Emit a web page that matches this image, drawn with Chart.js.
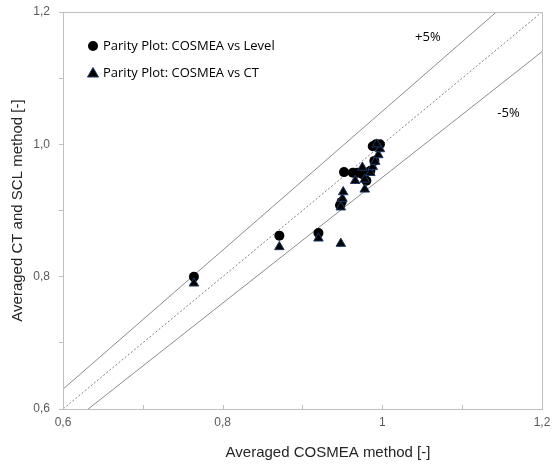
<!DOCTYPE html>
<html>
<head>
<meta charset="utf-8">
<script src="https://cdn.jsdelivr.net/npm/chart.js@4/dist/chart.umd.min.js"></script>
<style>
  html, body { margin: 0; padding: 0; background: #ffffff; }
  #wrap { width: 556px; height: 468px; }
</style>
</head>
<body>
<div id="wrap"><canvas id="chart" width="556" height="468"></canvas></div>
<script>
// COSMEA vs Level (circles)
const levelX = [0.764, 0.871, 0.920, 0.947, 0.949, 0.952, 0.963, 0.969, 0.975, 0.980, 0.985, 0.990, 0.988, 0.992, 0.997];
const levelY = [0.800, 0.862, 0.866, 0.908, 0.913, 0.958, 0.957, 0.957, 0.955, 0.945, 0.960, 0.975, 0.997, 1.000, 1.000];

// COSMEA vs CT (triangles)
const ctX = [0.764, 0.871, 0.920, 0.948, 0.948, 0.950, 0.951, 0.966, 0.975, 0.978, 0.978, 0.985, 0.988, 0.991, 0.995, 0.997, 0.993];
const ctY = [0.790, 0.845, 0.858, 0.850, 0.905, 0.918, 0.928, 0.945, 0.965, 0.947, 0.932, 0.957, 0.966, 0.974, 0.984, 0.993, 1.000];

// Parity line and +/-5 % bands (y = k * x)
const bandFactors = [1.0, 1.05, 0.95];
const bandLabels = ['', '+5%', '-5%'];

// Axis ticks
const xTickValues = [0.6, 0.8, 1.0, 1.2];
const xTickLabels = ['0,6', '0,8', '1', '1,2'];
const yTickValues = [0.6, 0.8, 1.0, 1.2];
const yTickLabels = ['0,6', '0,8', '1,0', '1,2'];

const seriesNames = ['Parity Plot: COSMEA vs Level', 'Parity Plot: COSMEA vs CT'];
const xTitle = 'Averaged COSMEA method [-]';
const yTitle = 'Averaged CT and SCL method [-]';

const toPoints = (xs, ys) => xs.map((x, i) => ({ x: x, y: ys[i] }));
const lineFor = k => [{ x: 0.5, y: 0.5 * k }, { x: 1.3, y: 1.3 * k }];
const labelFor = (vals, labels) => v => {
  const i = vals.findIndex(t => Math.abs(t - v) < 1e-6);
  return i >= 0 ? labels[i] : '';
};

const AXIS_GREY = '#bfbfbf';
const TEXT_GREY = '#595959';

// Frame, inner x tick marks, x title, in-plot legend and band labels
const decorations = {
  id: 'decorations',
  afterDraw(chart) {
    const { ctx, chartArea: a, scales } = chart;
    ctx.save();
    ctx.strokeStyle = AXIS_GREY;
    ctx.lineWidth = 1;
    ctx.strokeRect(Math.round(a.left) + 0.5, Math.round(a.top) + 0.5,
                   Math.round(a.right - a.left), Math.round(a.bottom - a.top));
    // x ticks pointing into the plot
    for (let v = 0.6; v <= 1.2001; v += 0.1) {
      const px = Math.round(scales.x.getPixelForValue(v)) + 0.5;
      ctx.beginPath();
      ctx.moveTo(px, Math.round(a.bottom));
      ctx.lineTo(px, Math.round(a.bottom) - 4);
      ctx.stroke();
    }
    // x axis title, set a little right of centre
    ctx.font = '15px "Liberation Sans"';
    ctx.fillStyle = '#262626';
    ctx.textAlign = 'center';
    ctx.textBaseline = 'middle';
    ctx.fillText(xTitle, a.left + 265, a.bottom + 44);
    // legend
    ctx.font = '13px "Open Sans"';
    ctx.fillStyle = '#000000';
    ctx.textAlign = 'left';
    const lx = a.left + 30;
    const rows = [a.top + 34, a.top + 61];
    ctx.beginPath();
    ctx.arc(lx, rows[0], 5, 0, Math.PI * 2);
    ctx.fill();
    ctx.beginPath();
    ctx.moveTo(lx, rows[1] - 5.5);
    ctx.lineTo(lx + 5.5, rows[1] + 4);
    ctx.lineTo(lx - 5.5, rows[1] + 4);
    ctx.closePath();
    ctx.fill();
    ctx.strokeStyle = '#1f3864';
    ctx.stroke();
    ctx.fillStyle = '#000000';
    ctx.fillText(seriesNames[0], lx + 10, rows[0]);
    ctx.fillText(seriesNames[1], lx + 10, rows[1]);
    // band labels
    ctx.textAlign = 'center';
    ctx.fillText(bandLabels[1], scales.x.getPixelForValue(1.057), scales.y.getPixelForValue(1.162));
    ctx.fillText(bandLabels[2], scales.x.getPixelForValue(1.158), scales.y.getPixelForValue(1.047));
    ctx.restore();
  }
};

const bandDatasets = bandFactors.map((k, i) => ({
  label: 'band' + i,
  data: lineFor(k),
  showLine: true,
  pointRadius: 0,
  borderColor: i === 0 ? '#808080' : '#8c8c8c',
  borderWidth: 1,
  borderDash: i === 0 ? [2, 2] : [],
  order: 3
}));

new Chart(document.getElementById('chart'), {
  type: 'scatter',
  data: {
    datasets: [
      {
        label: seriesNames[1],
        data: toPoints(ctX, ctY),
        pointStyle: 'triangle',
        pointRadius: 5.5,
        pointBackgroundColor: '#000000',
        pointBorderColor: '#1f3864',
        pointBorderWidth: 1,
        order: 0
      },
      {
        label: seriesNames[0],
        data: toPoints(levelX, levelY),
        pointStyle: 'circle',
        pointRadius: 5,
        pointBackgroundColor: '#000000',
        pointBorderColor: '#000000',
        pointBorderWidth: 0,
        order: 1
      },
      ...bandDatasets
    ]
  },
  options: {
    responsive: false,
    animation: false,
    devicePixelRatio: 1,
    layout: { padding: { top: 12, right: 14, left: 0, bottom: 0 } },
    plugins: { legend: { display: false }, tooltip: { enabled: false } },
    scales: {
      x: {
        type: 'linear',
        min: 0.6,
        max: 1.2,
        afterFit: s => { s.height = 59; s.paddingLeft = 0; s.paddingRight = 0; },
        afterBuildTicks: s => { s.ticks = xTickValues.map(v => ({ value: v })); },
        ticks: {
          callback: labelFor(xTickValues, xTickLabels),
          color: TEXT_GREY,
          font: { family: 'Liberation Sans', size: 12 },
          padding: 6,
          maxRotation: 0
        },
        grid: { drawOnChartArea: false, drawTicks: false },
        border: { display: true, color: AXIS_GREY },
        title: { display: false }
      },
      y: {
        type: 'linear',
        min: 0.6,
        max: 1.2,
        afterFit: s => { s.width = 63; s.paddingTop = 0; s.paddingBottom = 0; },
        ticks: {
          stepSize: 0.1,
          callback: labelFor(yTickValues, yTickLabels),
          color: TEXT_GREY,
          font: { family: 'Liberation Sans', size: 12 },
          padding: 9
        },
        grid: { drawOnChartArea: false, drawTicks: true, tickLength: 4, tickColor: AXIS_GREY },
        border: { display: true, color: AXIS_GREY },
        title: {
          display: true,
          text: yTitle,
          color: '#262626',
          font: { family: 'Liberation Sans', size: 15 },
          padding: { top: 9, bottom: 0 }
        }
      }
    }
  },
  plugins: [decorations]
});
</script>
</body>
</html>
